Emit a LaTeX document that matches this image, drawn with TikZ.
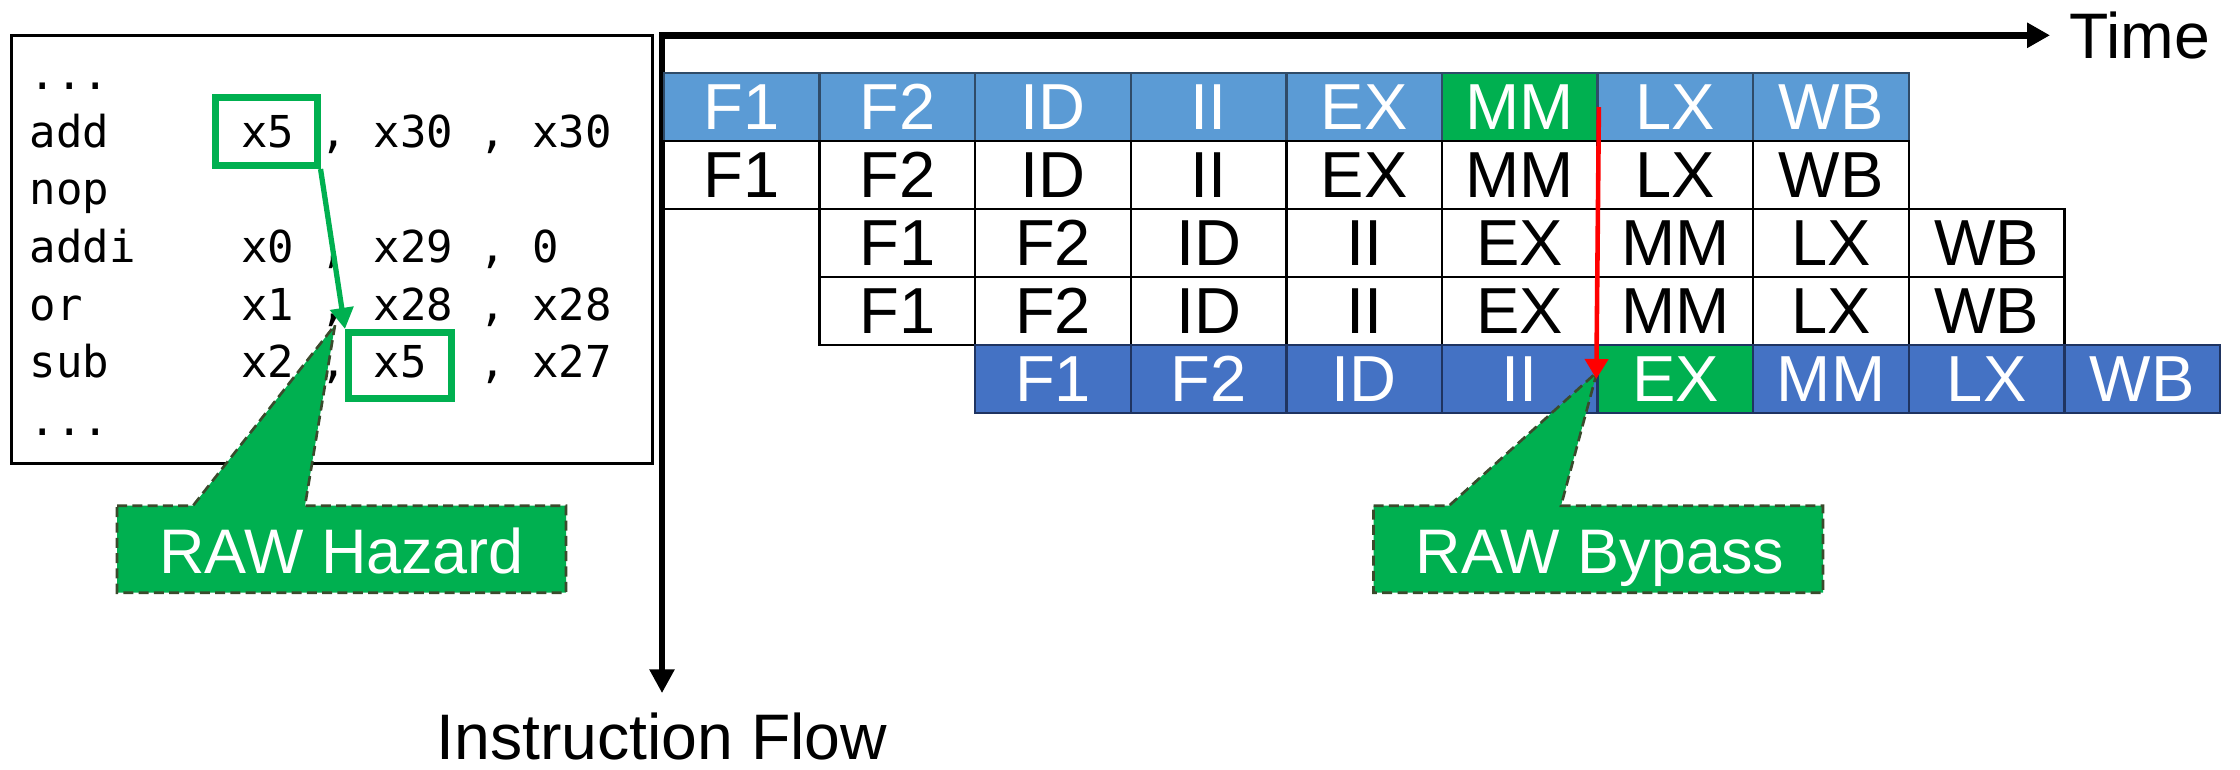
\documentclass[tikz,border=0pt]{standalone}
\usepackage{fontspec}
\setmainfont{Liberation Sans}
\newfontfamily\codefont{DejaVu Sans Mono}
\usetikzlibrary{arrows.meta}

\definecolor{lblue}{HTML}{5B9BD5}
\definecolor{dblue}{HTML}{4472C4}
\definecolor{okgreen}{HTML}{00B050}
\definecolor{lbluerule}{HTML}{2F4B68}
\definecolor{dbluerule}{HTML}{1F3461}
\definecolor{calloutrule}{HTML}{3B4A2C}

\tikzset{
  codeline/.style={anchor=base west, inner sep=0pt, font=\codefont\fontsize{12.5}{15}\selectfont},
  regbox/.style={draw=okgreen, line width=2pt, inner sep=0pt},
  axis/.style={line width=1.85pt, draw=black},
  label/.style={inner sep=0pt, font=\fontsize{18.3}{22}\selectfont},
  cell/.style={draw, line width=0.7pt, inner sep=0pt, minimum width=1.556cm,
    minimum height=0.68cm, font=\fontsize{18.5}{22}\selectfont},
  plainrow/.style={fill=white, draw=black, text=black},
  rowA/.style={fill=lblue, draw=lbluerule, text=white},
  rowB/.style={fill=dblue, draw=dbluerule, text=white},
  hot/.style={fill=okgreen},
  nohot/.style={},
  callout/.style={fill=okgreen, draw=calloutrule, line width=0.75pt,
    dash pattern=on 2.85pt off 1.5pt, line join=miter},
  callouttext/.style={anchor=base, inner sep=0pt, text=white,
    font=\fontsize{17.9}{22}\selectfont},
}

\begin{document}
\begin{tikzpicture}[x=0.01cm, y=-0.01cm]
\useasboundingbox (0,0) rectangle (2240,769);

% assembly listing
\node[draw, line width=0.85pt, anchor=north west, minimum width=6.41cm,
      minimum height=4.28cm, inner sep=0pt] (listing) at (10,34) {};
\node[codeline] (l0) at (29,89.5)  {...};
\node[codeline] (l1) at (29,147)   {add\ \ \ \ \ x5\ ,\ x30\ ,\ x30};
\node[codeline] (l2) at (29,204.7) {nop};
\node[codeline] (l3) at (29,262.4) {addi\ \ \ \ x0\ ,\ x29\ ,\ 0};
\node[codeline] (l4) at (29,320.1) {or\ \ \ \ \ \ x1\ ,\ x28\ ,\ x28};
\node[codeline] (l5) at (29,377.8) {sub\ \ \ \ \ x2\ ,\ x5\ \ ,\ x27};
\node[codeline] (l6) at (29,435.5) {...};

% producer and consumer registers
\node[regbox, minimum width=1.01cm, minimum height=0.68cm] (srcreg) at (266.5,131.5) {};
\node[regbox, minimum width=1.025cm, minimum height=0.66cm] (dstreg) at (399.75,365.5) {};

% RAW hazard callout
\coordinate (hzTip) at (335,325);
\filldraw[callout] (117,505.7) -- (193,505.7) -- (hzTip) -- (305,505.7)
  -- (566,505.7) -- (566,592.7) -- (117,592.7) -- cycle;
\node[callouttext] (hz) at (341.5,573.3) {RAW Hazard};

\draw[okgreen, line width=1.5pt, -{Triangle[length=6pt,width=6.5pt]}]
  (srcreg.south east) -- (dstreg.north west);

% axes
\node[label, anchor=base west] (time) at (2069,58.3) {Time};
\node[label, anchor=base] (flow) at (662,759) {Instruction Flow};
\draw[axis, {Triangle[length=6.8pt,width=6.8pt]}-{Triangle[length=6.5pt,width=6.8pt]},
      shorten <=0.185cm, shorten >=0.19cm]
  (flow.north) |- (time.west);

% pipeline stages
\foreach \r/\s/\sty/\hot in {0/0/rowA/5, 1/0/plainrow/-1, 2/1/plainrow/-1,
                              3/1/plainrow/-1, 4/2/rowB/4} {
  \foreach \st [count=\k from 0] in {F1,F2,ID,II,EX,MM,LX,WB} {
    \pgfmathtruncatemacro\c{\s+\k}
    \ifnum\k=\hot\def\extra{hot}\else\def\extra{nohot}\fi
    \node[cell, \sty, \extra] (m\r\c) at ({664+155.6*(\c+0.5)}, {73+68*(\r+0.5)}) {\st};
  }
}

% RAW bypass callout
\coordinate (bpTip) at (1597,372);
\filldraw[callout] (1373.5,505.7) -- (1449,505.7) -- (bpTip) -- (1561,505.7)
  -- (1823,505.7) -- (1823,592.7) -- (1373.5,592.7) -- cycle;
\node[callouttext] (bp) at (1600,573.3) {RAW Bypass};

% forwarding path
\draw[red, line width=1.3pt, -{Triangle[length=5.7pt,width=6.5pt]}]
  (m05.east) -- (m46.west);
\end{tikzpicture}
\end{document}
